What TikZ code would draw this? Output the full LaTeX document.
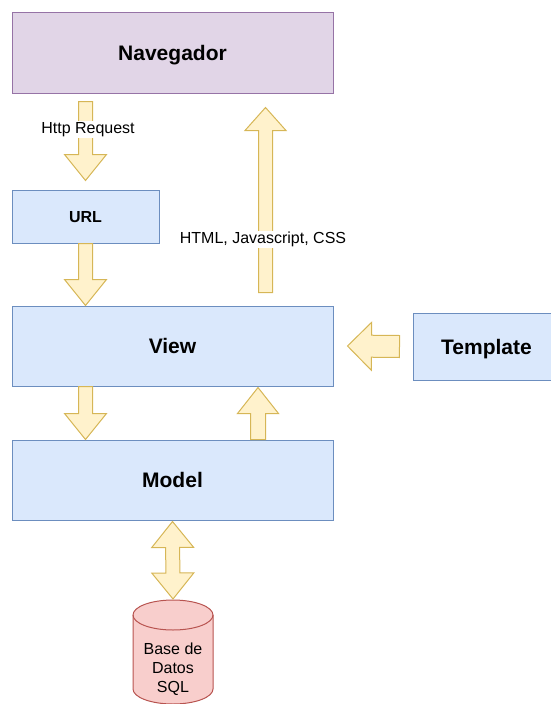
\documentclass[tikz,border=0pt]{standalone}
\usepackage{fontspec}
\setmainfont{Liberation Sans}
\usetikzlibrary{calc}
\definecolor{navfill}{HTML}{E1D5E7}
\definecolor{navline}{HTML}{9673A6}
\definecolor{boxfill}{HTML}{DAE8FC}
\definecolor{boxline}{HTML}{6C8EBF}
\definecolor{arrowfill}{HTML}{FFF2CC}
\definecolor{arrowline}{HTML}{D6B656}
\definecolor{dbfill}{HTML}{F8CECC}
\definecolor{dbline}{HTML}{B85450}

% Blockpfeil: Schaft, Kopfbreite, Kopflaenge, von, nach
\newcommand{\blockarrow}[5]{%
  \coordinate (ba-h) at ($(#5)!#3!(#4)$);
  \draw[barrow] ($(#4)!#1!90:(#5)$) -- ($(ba-h)!#1!90:(#5)$) -- ($(ba-h)!#2!90:(#5)$)
    -- (#5) -- ($(ba-h)!#2!-90:(#5)$) -- ($(ba-h)!#1!-90:(#5)$) -- ($(#4)!#1!-90:(#5)$) -- cycle;
}
% Doppelpfeil
\newcommand{\dblarrow}[5]{%
  \coordinate (da-a) at ($(#4)!#3!(#5)$);
  \coordinate (da-b) at ($(#5)!#3!(#4)$);
  \draw[barrow] (#4) -- ($(da-a)!#2!90:(#5)$) -- ($(da-a)!#1!90:(#5)$) -- ($(da-b)!#1!-90:(#4)$)
    -- ($(da-b)!#2!-90:(#4)$) -- (#5) -- ($(da-b)!#2!90:(#4)$) -- ($(da-b)!#1!90:(#4)$)
    -- ($(da-a)!#1!-90:(#5)$) -- ($(da-a)!#2!-90:(#5)$) -- cycle;
}

\begin{document}
\begin{tikzpicture}[x=1pt,y=-1pt,line width=1pt,
  box/.style={draw=boxline,fill=boxfill,minimum width=321pt,minimum height=80pt,
    inner sep=0pt,text depth=0pt,font=\fontsize{21}{25}\selectfont\bfseries},
  smallbox/.style={box,minimum width=147pt,minimum height=53pt,
    font=\fontsize{16}{19}\selectfont\bfseries},
  lbl/.style={fill=white,inner sep=1pt,font=\fontsize{16}{19.2}\selectfont},
  barrow/.style={draw=arrowline,fill=arrowfill,line join=miter}]
  \useasboundingbox (0,0) rectangle (551,704);

  % Kaesten
  \node[box,draw=navline,fill=navfill,minimum height=81pt] (nav) at (172.5,52.5) {Navegador};
  \node[smallbox] (url) at (85.5,216.5) {URL};
  \node[box] (view) at (172.5,346) {View};
  \node[box,minimum width=147pt,minimum height=67pt] (tpl) at (486.5,346.5) {Template};
  \node[box] (model) at (172.5,480) {Model};

  % Datenbank
  \coordinate (dbtop) at (173,600);
  \draw[draw=dbline,fill=dbfill] (133,615) -- (133,689)
    arc[start angle=180,end angle=360,x radius=40pt,y radius=15pt] -- (213,615)
    arc[start angle=0,end angle=180,x radius=40pt,y radius=15pt] -- cycle;
  \draw[dbline] (133,615) arc[start angle=180,end angle=360,x radius=40pt,y radius=15pt];
  \node[align=center,font=\fontsize{16}{19}\selectfont] (db) at (173,669) {Base de\\Datos\\SQL};

  % Pfeile
  \coordinate (req-s) at ($(nav.south -| url.north)+(0,8)$);
  \coordinate (req-e) at ($(url.north)+(0,-9)$);
  \blockarrow{7pt}{21pt}{26pt}{req-s}{req-e}
  \node[lbl] (req) at ($(req-s)!0.34!(req-e)+(2.5,1)$) {Http Request};

  \blockarrow{7pt}{21pt}{26pt}{url.south}{url.south |- view.north}

  \coordinate (res-s) at ($(view.north west)+(254,-13)$);
  \coordinate (res-e) at ($(nav.south west)+(254,14)$);
  \blockarrow{7pt}{20.5pt}{23pt}{res-s}{res-e}
  \node[lbl] (res) at ($(res-s)!0.296!(res-e)+(-2.5,2)$) {HTML, Javascript, CSS};

  \coordinate (tpl-s) at ($(tpl.west)+(-13,0)$);
  \coordinate (tpl-e) at ($(view.east)+(14,0)$);
  \blockarrow{11pt}{24pt}{24pt}{tpl-s}{tpl-e}

  \blockarrow{7pt}{21pt}{26pt}{url.south |- view.south}{url.south |- model.north}

  \coordinate (up-s) at ($(model.north west)+(246.5,0)$);
  \coordinate (up-e) at ($(view.south west)+(246.5,1)$);
  \blockarrow{7.5pt}{20.5pt}{26pt}{up-s}{up-e}

  \coordinate (sql-s) at ($(model.south)+(0,1)$);
  \coordinate (sql-e) at ($(dbtop)+(0,-1)$);
  \dblarrow{7pt}{21pt}{26pt}{sql-s}{sql-e}
\end{tikzpicture}
\end{document}
